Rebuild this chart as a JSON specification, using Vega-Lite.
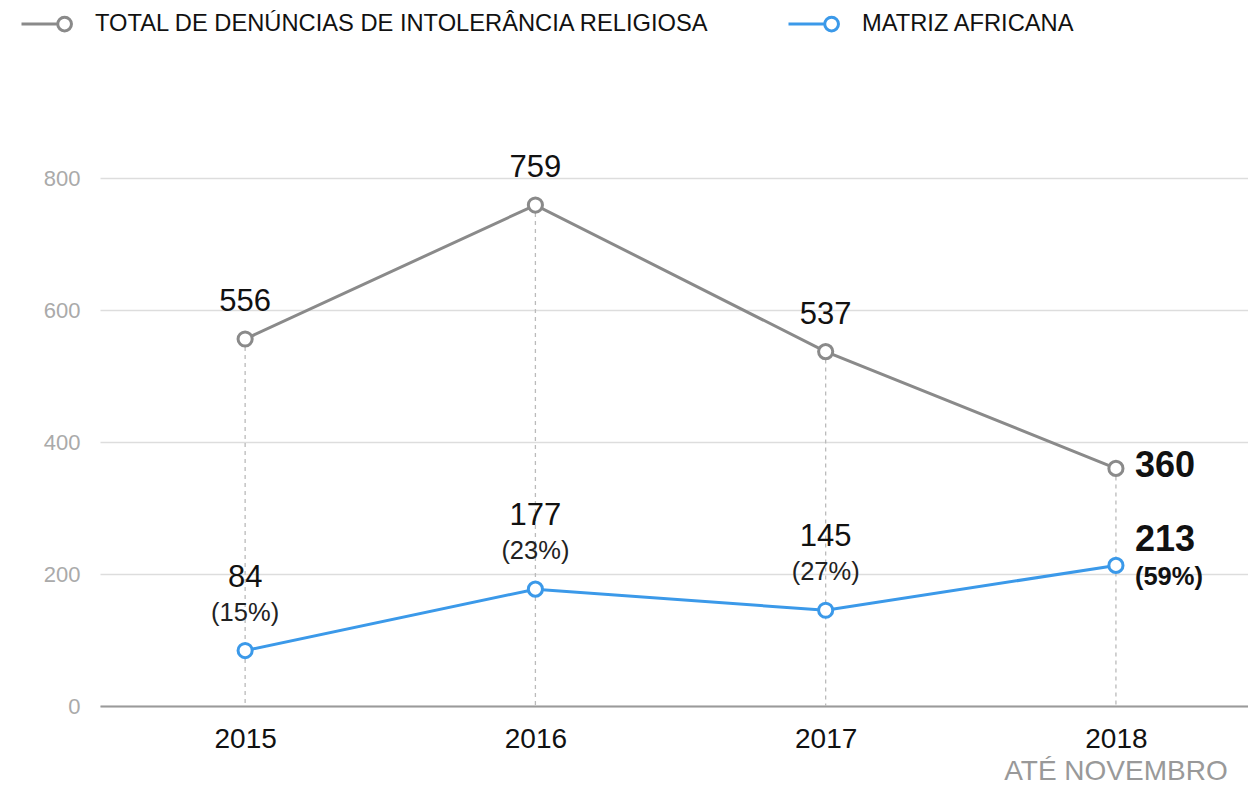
{
  "$schema": "https://vega.github.io/schema/vega-lite/v6.json",
  "width": 1148,
  "height": 528,
  "autosize": {"type": "none"},
  "padding": {"left": 100, "top": 178, "right": 0, "bottom": 79},
  "background": "white",
  "config": {
    "font": "Liberation Sans",
    "view": {"stroke": null}
  },
  "data": {
    "values": [
      {"ano": 2015, "serie": "TOTAL DE DENÚNCIAS DE INTOLERÂNCIA RELIGIOSA", "valor": 556, "pct": ""},
      {"ano": 2016, "serie": "TOTAL DE DENÚNCIAS DE INTOLERÂNCIA RELIGIOSA", "valor": 759, "pct": ""},
      {"ano": 2017, "serie": "TOTAL DE DENÚNCIAS DE INTOLERÂNCIA RELIGIOSA", "valor": 537, "pct": ""},
      {"ano": 2018, "serie": "TOTAL DE DENÚNCIAS DE INTOLERÂNCIA RELIGIOSA", "valor": 360, "pct": ""},
      {"ano": 2015, "serie": "MATRIZ AFRICANA", "valor": 84, "pct": "(15%)"},
      {"ano": 2016, "serie": "MATRIZ AFRICANA", "valor": 177, "pct": "(23%)"},
      {"ano": 2017, "serie": "MATRIZ AFRICANA", "valor": 145, "pct": "(27%)"},
      {"ano": 2018, "serie": "MATRIZ AFRICANA", "valor": 213, "pct": "(59%)"}
    ]
  },
  "encoding": {
    "x": {
      "field": "ano", "type": "quantitative",
      "scale": {"domain": [2014.5, 2018.455], "nice": false, "zero": false},
      "axis": {
        "title": null, "values": [2015, 2016, 2017, 2018], "format": "d",
        "grid": false, "ticks": false, "labelFontSize": 28, "labelColor": "#111",
        "labelPadding": 19, "domainColor": "#9a9a9a", "domainWidth": 2,
        "labelFlush": false
      }
    },
    "y": {
      "field": "valor", "type": "quantitative",
      "scale": {"domain": [0, 800], "nice": false},
      "axis": {
        "title": null, "values": [0, 200, 400, 600, 800], "grid": true,
        "gridColor": "#dddddd", "gridWidth": 1.5, "domain": false, "ticks": false,
        "labelFontSize": 22, "labelColor": "#aaaaaa", "labelPadding": 20
      }
    }
  },
  "layer": [
    {
      "transform": [{"filter": "datum.serie !== 'MATRIZ AFRICANA'"}],
      "mark": {"type": "rule", "color": "#bbbbbb", "strokeDash": [4, 4], "strokeWidth": 1.3},
      "encoding": {"y2": {"datum": 0}}
    },
    {
      "mark": {
        "type": "line", "strokeWidth": 3,
        "point": {"filled": false, "fill": "white", "size": 200, "strokeWidth": 3}
      },
      "encoding": {
        "color": {
          "field": "serie", "type": "nominal",
          "scale": {
            "domain": ["TOTAL DE DENÚNCIAS DE INTOLERÂNCIA RELIGIOSA", "MATRIZ AFRICANA"],
            "range": ["#8a8a8a", "#3b99e9"]
          },
          "legend": {
            "title": null, "orient": "none", "legendX": -80, "legendY": -181,
            "direction": "horizontal", "columns": 2, "columnPadding": 72,
            "padding": 0,
            "symbolType": "M-1,0L0.42,0M0.96,0A0.27,0.27 0 1,1 0.42,0A0.27,0.27 0 1,1 0.96,0Z",
            "symbolSize": 2601, "symbolStrokeWidth": 3, "symbolFillColor": "white",
            "labelFontSize": 23.7, "labelColor": "#111", "labelOffset": 21,
            "labelLimit": 1000
          }
        }
      }
    },
    {
      "transform": [{"filter": "datum.serie !== 'MATRIZ AFRICANA' && datum.ano < 2018"}],
      "mark": {"type": "text", "fontSize": 31, "color": "#111", "dy": -37, "baseline": "middle"},
      "encoding": {"text": {"field": "valor", "type": "quantitative"}}
    },
    {
      "transform": [{"filter": "datum.serie === 'MATRIZ AFRICANA' && datum.ano < 2018"}],
      "mark": {"type": "text", "fontSize": 31, "color": "#111", "dy": -73, "baseline": "middle"},
      "encoding": {"text": {"field": "valor", "type": "quantitative"}}
    },
    {
      "transform": [{"filter": "datum.serie === 'MATRIZ AFRICANA' && datum.ano < 2018"}],
      "mark": {"type": "text", "fontSize": 25.5, "color": "#222", "dy": -38, "baseline": "middle"},
      "encoding": {"text": {"field": "pct", "type": "nominal"}}
    },
    {
      "transform": [{"filter": "datum.serie !== 'MATRIZ AFRICANA' && datum.ano === 2018"}],
      "mark": {"type": "text", "fontSize": 36, "fontWeight": "bold", "color": "#111", "dx": 19, "dy": -2, "align": "left", "baseline": "middle"},
      "encoding": {"text": {"field": "valor", "type": "quantitative"}}
    },
    {
      "transform": [{"filter": "datum.serie === 'MATRIZ AFRICANA' && datum.ano === 2018"}],
      "mark": {"type": "text", "fontSize": 36, "fontWeight": "bold", "color": "#111", "dx": 19, "dy": -25, "align": "left", "baseline": "middle"},
      "encoding": {"text": {"field": "valor", "type": "quantitative"}}
    },
    {
      "transform": [{"filter": "datum.serie === 'MATRIZ AFRICANA' && datum.ano === 2018"}],
      "mark": {"type": "text", "fontSize": 25.5, "fontWeight": "bold", "color": "#111", "dx": 19, "dy": 12, "align": "left", "baseline": "middle"},
      "encoding": {"text": {"field": "pct", "type": "nominal"}}
    },
    {
      "data": {"values": [{"ano": 2018, "valor": 0, "nota": "ATÉ NOVEMBRO"}]},
      "mark": {"type": "text", "fontSize": 28, "color": "#999999", "dy": 66, "baseline": "middle"},
      "encoding": {"text": {"field": "nota", "type": "nominal"}}
    }
  ]
}
